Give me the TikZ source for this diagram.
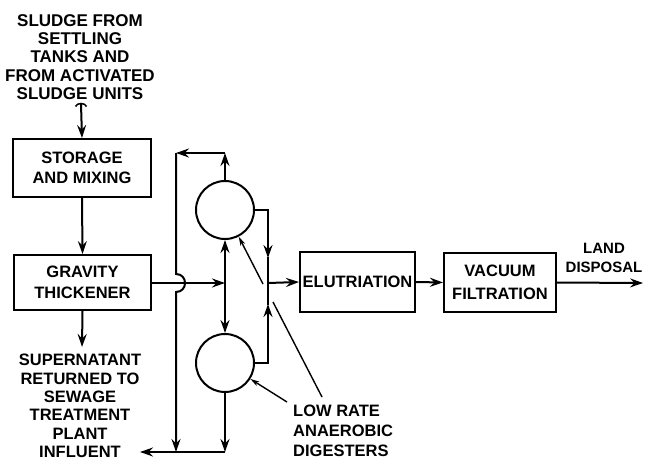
\documentclass[tikz,border=0pt]{standalone}
\usepackage{fontspec}
\setmainfont{Liberation Sans}
\usetikzlibrary{arrows.meta}
\begin{document}
\begin{tikzpicture}[x=1pt,y=-1pt,
  lbl/.style={font=\bfseries\fontsize{16.5}{18.5}\selectfont, align=center, inner sep=0pt},
  box/.style={draw, line width=2pt, inner sep=0pt, align=center, font=\bfseries\fontsize{16.5}{20.5}\selectfont},
  tank/.style={draw, circle, line width=2pt, minimum size=58pt, inner sep=0pt},
  pipe/.style={line width=2pt, line cap=rect},
  flow/.style={line width=2pt, -{Stealth[length=13pt,width=9pt,inset=4.5pt]}},
  ptr/.style={line width=1.4pt, -{Stealth[length=9pt,width=5pt,inset=2.5pt]}}]
\useasboundingbox (0,0) rectangle (647,460);

% text
\node[lbl, font=\bfseries\fontsize{17}{18.2}\selectfont] (src) at (80,57) {SLUDGE FROM\\SETTLING\\TANKS AND\\FROM ACTIVATED\\SLUDGE UNITS};
\node[lbl, font=\bfseries\fontsize{16.5}{18.4}\selectfont] (sup) at (80,406) {SUPERNATANT\\RETURNED TO\\SEWAGE\\TREATMENT\\PLANT\\INFLUENT};
\node[lbl, font=\bfseries\fontsize{15}{19}\selectfont] (ld) at (604,258) {LAND\\DISPOSAL};
\node[lbl, align=left, anchor=west, font=\bfseries\fontsize{16.5}{20}\selectfont] (lr) at (293,431) {LOW RATE\\ANAEROBIC\\DIGESTERS};

% boxes
\node[box, minimum width=138pt, minimum height=58pt] (st) at (82,168) {STORAGE\\AND MIXING};
\node[box, minimum width=137pt, minimum height=55pt, font=\bfseries\fontsize{16.5}{21}\selectfont] (gt) at (82.5,282.5) {GRAVITY\\THICKENER};
\node[box, minimum width=115pt, minimum height=60pt] (el) at (357.5,282) {ELUTRIATION};
\node[box, minimum width=112pt, minimum height=59pt, font=\bfseries\fontsize{16.5}{23}\selectfont] (vf) at (500,282.5) {VACUUM\\FILTRATION};

% digesters
\node[tank] (c1) at (225,210) {};
\node[tank] (c2) at (225,363) {};

% coordinates
\coordinate (ft) at (81,104);
\coordinate (gs) at (82,347);
\coordinate (j1) at (225,283);
\coordinate (tA) at (225,153);
\coordinate (tB) at (176,153);
\coordinate (h1) at (176,274);
\coordinate (h2) at (176,292);
\coordinate (bB) at (176,452);
\coordinate (bA) at (225,452);
\coordinate (oL) at (140,452);
\coordinate (r1) at (268,210);
\coordinate (r2) at (268,363);
\coordinate (m1) at (268,258);
\coordinate (m2) at (268,304);
\coordinate (jR) at (268,283);
\coordinate (out) at (643,283);
\coordinate (p1s) at (322,397);
\coordinate (p1m) at (273,302);
\coordinate (p1n) at (263,284);
\coordinate (p2s) at (287,402);

% feed
\draw[line width=1.5pt] (75.5,106.5) .. controls (77,102.5) and (85,102.5) .. (86.5,106.5);
\draw[flow] (ft) -- (st.north);
\draw[flow] (st.south) -- (gt.north);
\draw[flow] (gt.south) -- (gs);
\draw[flow] (gt.east |- j1) -- (j1);

% digester connections
\draw[flow] (j1) -- (c1.south);
\draw[flow] (j1) -- (c2.north);
\draw[flow] (c1.north) -- (tA);
\draw[flow] (tA) -- (tB);
\draw[flow] (tB) -- (h1) .. controls (188,274) and (188,292) .. (h2) -- (bB);
\draw[flow] (c2.south) -- (bA);
\draw[flow] (bA) -- (oL);

\draw[pipe] (c1.east) -- (r1);
\draw[flow] (r1) -- (m1);
\draw[pipe] (m1) -- (jR);
\draw[pipe] (c2.east) -- (r2);
\draw[flow] (r2) -- (m2);
\draw[pipe] (m2) -- (jR);
\draw[flow] (jR) -- (el.west);
\draw[flow] (el.east) -- (vf.west);
\draw[flow] (vf.east) -- (out);

% pointers
\draw[line width=1.4pt] (p1s) -- (p1m);
\draw[ptr] (p1n) -- (c1);
\draw[ptr] (p2s) -- (c2);
\end{tikzpicture}
\end{document}
